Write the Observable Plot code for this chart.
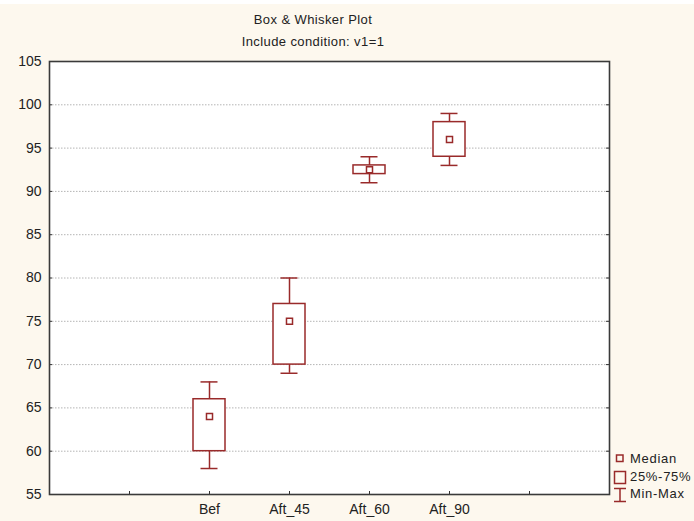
<!DOCTYPE html>
<html>
<head>
<meta charset="utf-8">
<script src="https://cdn.jsdelivr.net/npm/d3@7"></script>
<script src="https://cdn.jsdelivr.net/npm/@observablehq/plot@0.6"></script>
<style>
  html, body { margin: 0; padding: 0; }
  body { width: 694px; height: 521px; overflow: hidden; font-family: "Liberation Sans", Arial, sans-serif; }
  #wrap { position: relative; width: 694px; height: 521px; background: #fdf8ee; }
  #strip { position: absolute; left: 0; top: 0; width: 694px; height: 4px; background: #ffffff; }
  .title { position: absolute; left: 213px; width: 200px; text-align: center; font-size: 13px; color: #222; letter-spacing: 0.4px; white-space: nowrap; }
  #chart { position: absolute; left: 0; top: 0; }
  .leg { position: absolute; font-size: 13px; color: #222; letter-spacing: 0.7px; white-space: nowrap; }
  .legsym { position: absolute; }
</style>
</head>
<body>
<div id="wrap">
  <div id="strip"></div>
  <div id="chart"></div>
  <div class="title" style="top:12px">Box &amp; Whisker Plot</div>
  <div class="title" style="top:34px">Include condition: v1=1</div>
  <svg class="legsym" style="left:610px;top:450px" width="20" height="56">
    <rect x="6.5" y="5" width="6.5" height="6.5" fill="none" stroke="#992a2a" stroke-width="1.5"/>
    <rect x="4.5" y="21.5" width="11" height="12" fill="none" stroke="#992a2a" stroke-width="1.5"/>
    <path d="M4,38.5h12M10,38.5v13M4,51.5h12" fill="none" stroke="#992a2a" stroke-width="1.5"/>
  </svg>
  <div class="leg" style="left:630px;top:451px">Median</div>
  <div class="leg" style="left:630px;top:469px">25%-75%</div>
  <div class="leg" style="left:630px;top:486px">Min-Max</div>
</div>
<script>
const categories = ["Bef", "Aft_45", "Aft_60", "Aft_90"];
const minValues    = [58, 69, 91, 93];
const q1Values     = [60, 70, 92, 94];
const medianValues = [64, 75, 92.5, 96];
const q3Values     = [66, 77, 93, 98];
const maxValues    = [68, 80, 94, 99];
const yTickValues = [55, 60, 65, 70, 75, 80, 85, 90, 95, 100, 105];
const gridValues  = [60, 65, 70, 75, 80, 85, 90, 95, 100];
const xDomain = [" ", ...categories, "  "];

const red = "#992a2a";
const stats = categories.map((c, i) => ({
  cat: c, min: minValues[i], q1: q1Values[i], median: medianValues[i], q3: q3Values[i], max: maxValues[i]
}));

const chart = Plot.plot({
  width: 694,
  height: 521,
  marginTop: 61,
  marginBottom: 27,
  marginLeft: 49,
  marginRight: 85,
  style: { background: "transparent", fontFamily: "Liberation Sans, Arial, sans-serif" },
  x: { type: "band", domain: xDomain, paddingInner: 0.6, paddingOuter: 0.8, align: 0.5 },
  y: { domain: [55, 105] },
  marks: [
    Plot.frame({ fill: "white", stroke: "none" }),
    Plot.gridY(gridValues, { stroke: "#b4b4b4", strokeOpacity: 1, strokeDasharray: "1.5,1.5" }),
    Plot.axisY(yTickValues, { tickSize: 0, tickPadding: 8, fontSize: 14, fill: "#222", label: null }),
    Plot.axisX({ tickSize: 0, tickPadding: 10, fontSize: 14, fill: "#222", label: null }),
    Plot.ruleY(gridValues, { insetRight: 557, stroke: "#333" }),
    Plot.ruleY(gridValues, { insetLeft: 557, stroke: "#333" }),
    Plot.ruleX(xDomain, { insetTop: 430, stroke: "#333" }),
    Plot.ruleX(stats, { x: "cat", y1: "min", y2: "max", stroke: red, strokeWidth: 1.5 }),
    Plot.tickY(stats, { x: "cat", y: "min", stroke: red, strokeWidth: 1.5, inset: 7.5 }),
    Plot.tickY(stats, { x: "cat", y: "max", stroke: red, strokeWidth: 1.5, inset: 7.5 }),
    Plot.barY(stats, { x: "cat", y1: "q1", y2: "q3", fill: "white", stroke: red, strokeWidth: 1.5 }),
    Plot.dot(stats, { x: "cat", y: "median", symbol: "square", r: 3.4, fill: "white", stroke: red, strokeWidth: 1.5 }),
    Plot.frame({ stroke: "#3a3a3a", strokeWidth: 1.6 })
  ]
});
document.getElementById("chart").appendChild(chart);
</script>
</body>
</html>
